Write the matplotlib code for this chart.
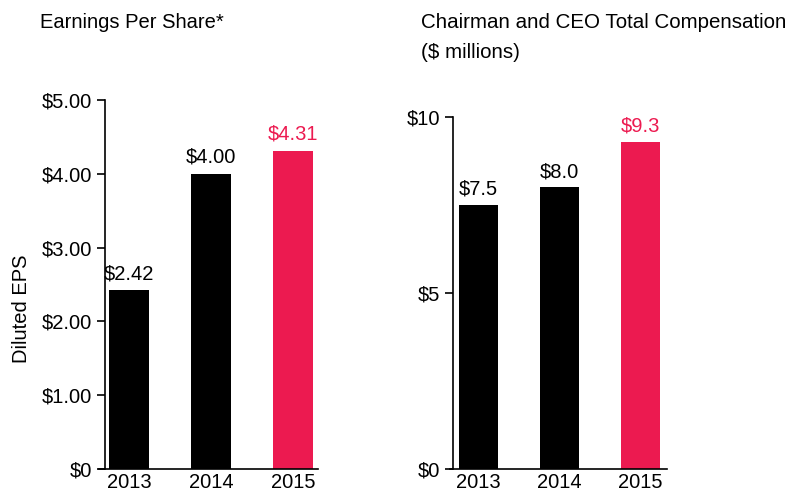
import matplotlib
matplotlib.use('Agg')
import matplotlib.pyplot as plt

plt.rcParams['font.family'] = ['Liberation Sans', 'DejaVu Sans']

# data
years = ['2013', '2014', '2015']
eps = [2.42, 4.00, 4.31]
eps_labels = ['$2.42', '$4.00', '$4.31']
comp = [7.5, 8.0, 9.3]
comp_labels = ['$7.5', '$8.0', '$9.3']
eps_ticks = [0, 1, 2, 3, 4, 5]
eps_ticklabels = ['$0', '$1.00', '$2.00', '$3.00', '$4.00', '$5.00']
comp_ticks = [0, 5, 10]
comp_ticklabels = ['$0', '$5', '$10']

pink = '#EC1A50'
colors = ['black', 'black', pink]
fs = 14.5

fig = plt.figure(figsize=(7.95, 4.93), dpi=100)
ax1 = fig.add_axes([105 / 795, 24 / 493, 213 / 795, 369 / 493])
ax2 = fig.add_axes([453 / 795, 24 / 493, 214 / 795, 352 / 493])


def style(ax, ticks, ticklabels, ymax, xlim):
    ax.set_ylim(0, ymax)
    ax.set_xlim(*xlim)
    ax.set_yticks(ticks)
    ax.set_yticklabels(ticklabels, fontsize=fs)
    ax.set_xticks(range(len(years)))
    ax.set_xticklabels(years, fontsize=fs)
    for s in ['top', 'right']:
        ax.spines[s].set_visible(False)
    ax.spines['left'].set_linewidth(1.2)
    ax.spines['bottom'].set_linewidth(1.2)
    ax.tick_params(axis='y', length=6, width=1.2, pad=3)
    ax.tick_params(axis='x', length=0, pad=3)


xs = range(len(years))
ax1.bar(xs, eps, width=0.49, color=colors)
for x, v, lab, c in zip(xs, eps, eps_labels, colors):
    ax1.text(x, v + 0.1, lab, ha='center', va='bottom', fontsize=fs, color=c)
style(ax1, eps_ticks, eps_ticklabels, 5, (-0.29, 2.3))
ax1.spines['bottom'].set_bounds(-0.36, 2.3)
ax1.set_ylabel('Diluted EPS', fontsize=fs)
ax1.yaxis.set_label_coords(-0.347, 0.433)

ax2.bar(xs, comp, width=0.48, color=colors)
for x, v, lab, c in zip(xs, comp, comp_labels, colors):
    ax2.text(x, v + 0.18, lab, ha='center', va='bottom', fontsize=fs, color=c)
style(ax2, comp_ticks, comp_ticklabels, 10, (-0.31, 2.33))
ax2.spines['bottom'].set_bounds(-0.35, 2.33)

fig.text(40 / 795, 1 - 22 / 493, 'Earnings Per Share*', fontsize=fs, va='center', ha='left')
fig.text(421 / 795, 1 - 22 / 493, 'Chairman and CEO Total Compensation', fontsize=14.8, va='center', ha='left')
fig.text(421 / 795, 1 - 53 / 493, '($ millions)', fontsize=14.8, va='center', ha='left')

fig.savefig('out.png', dpi=100)
